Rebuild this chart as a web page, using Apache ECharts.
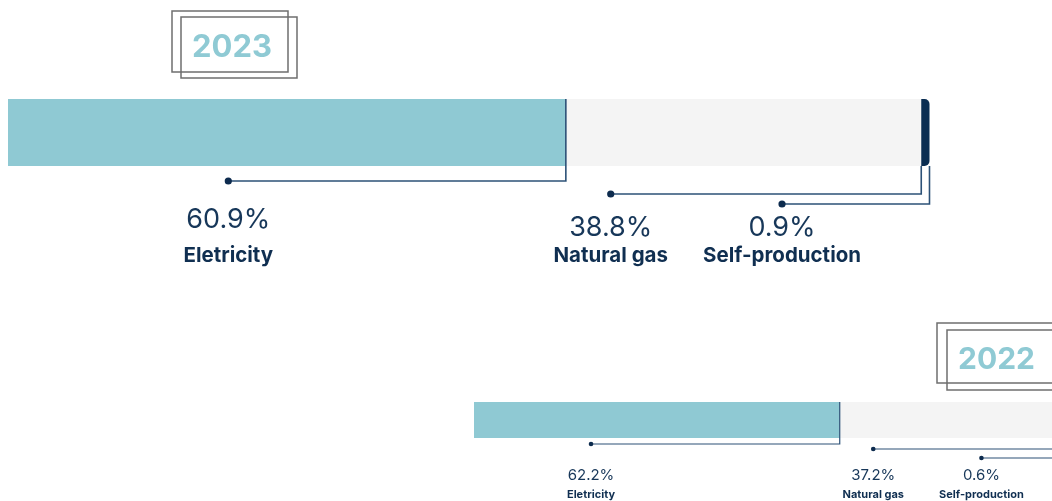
<!DOCTYPE html>
<html><head><meta charset="utf-8">
<script src="https://cdn.jsdelivr.net/npm/echarts@6/dist/echarts.min.js"></script>
<style>html,body{margin:0;padding:0;background:#fff}#c{width:1052px;height:501px}</style>
</head><body><div id="c"></div>
<script>
// ---- data ----
const years = ['2023', '2022'];
const sources = ['Eletricity', 'Natural gas', 'Self-production'];
const share2023 = [60.9, 38.8, 0.9];
const share2022 = [62.2, 37.2, 0.6];
const shares = [share2023, share2022];

// ---- styles / layout ----
const colors = ['#8fc9d3', '#f4f4f4', '#0a2d52'];
const FONT = 'Inter, "DejaVu Sans", sans-serif';
const layout = [
  { left: 8, top: 99, height: 67, pxPerUnit: 9.16,
    lineDrop: [15, 28, 38], dotAt: [24.05, 65.8, 84.5], fromTop: [true, false, false],
    pctY: [220, 228, 228], nameY: 256, pctSize: 27, nameSize: 20.5, dotR: 3.6, lw: 1.6,
    box: { x: 172, y: 11, w: 116, h: 61, dx: 9, dy: 6 }, yearSize: 31 },
  { left: 474, top: 402, height: 36, pxPerUnit: 5.88,
    lineDrop: [6, 11, 20], dotAt: [19.9, 67.9, 86.3], fromTop: [true, false, false],
    pctY: [475, 475, 475], nameY: 495, pctSize: 15, nameSize: 11, dotR: 2.3, lw: 1.2,
    box: { x: 937, y: 323, w: 116, h: 60, dx: 10, dy: 7 }, yearSize: 30 }
];

const totals = shares.map(a => a.reduce((s, v) => s + v, 0));
const chart = echarts.init(document.getElementById('c'), null, { renderer: 'canvas' });

const grid = [], xAxis = [], yAxis = [], series = [];
shares.forEach((arr, gi) => {
  const L = layout[gi];
  grid.push({ left: L.left, top: L.top, width: totals[gi] * L.pxPerUnit, height: L.height,
              containLabel: false, outerBoundsMode: 'none' });
  xAxis.push({ gridIndex: gi, type: 'value', min: 0, max: totals[gi], show: false });
  yAxis.push({ gridIndex: gi, type: 'category', data: [years[gi]], show: false });
  arr.forEach((v, si) => {
    series.push({
      type: 'bar', name: sources[si], xAxisIndex: gi, yAxisIndex: gi, stack: 'y' + years[gi],
      data: [v], barWidth: '100%', clip: false, silent: true,
      itemStyle: { color: colors[si], borderRadius: si === 2 ? [0, 5, 5, 0] : 0 }
    });
  });
});

chart.setOption({ animation: false, grid, xAxis, yAxis, series });

// ---- annotations derived from axis scales ----
const graphics = [];
shares.forEach((arr, gi) => {
  const L = layout[gi];
  const top = L.top, bottom = L.top + L.height;
  let cum = 0;
  arr.forEach((v, si) => {
    cum += v;
    const xEnd = chart.convertToPixel({ xAxisIndex: gi }, cum);
    const xDot = chart.convertToPixel({ xAxisIndex: gi }, L.dotAt[si]);
    const yLine = bottom + L.lineDrop[si];
    const y0 = L.fromTop[si] ? top : bottom;
    graphics.push({ type: 'polyline', silent: true, z: 10,
      shape: { points: [[xEnd, y0], [xEnd, yLine], [xDot, yLine]] },
      style: { stroke: '#2c5177', lineWidth: L.lw, fill: null } });
    graphics.push({ type: 'circle', silent: true, z: 11,
      shape: { cx: xDot, cy: yLine, r: L.dotR }, style: { fill: '#0d2b4e' } });
    graphics.push({ type: 'text', silent: true, z: 11, x: xDot, y: L.pctY[si],
      style: { text: v.toFixed(1) + '%', fontFamily: FONT, fontSize: L.pctSize, fontWeight: 400,
               fill: '#173759', align: 'center', verticalAlign: 'middle' } });
    graphics.push({ type: 'text', silent: true, z: 11, x: xDot, y: L.nameY,
      style: { text: sources[si], fontFamily: FONT, fontSize: L.nameSize, fontWeight: 700,
               fill: '#102f51', align: 'center', verticalAlign: 'middle' } });
  });
  const B = L.box;
  graphics.push({ type: 'rect', silent: true, z: 5,
    shape: { x: B.x, y: B.y, width: B.w, height: B.h },
    style: { fill: null, stroke: '#6f6f6f', lineWidth: 1.5 } });
  graphics.push({ type: 'rect', silent: true, z: 5,
    shape: { x: B.x + B.dx, y: B.y + B.dy, width: B.w, height: B.h },
    style: { fill: null, stroke: '#6f6f6f', lineWidth: 1.5 } });
  graphics.push({ type: 'text', silent: true, z: 6,
    x: B.x + B.dx + 11, y: B.y + B.dy + B.h / 2,
    style: { text: years[gi], fontFamily: FONT, fontSize: L.yearSize, fontWeight: 700,
             fill: '#8fcad4', align: 'left', verticalAlign: 'middle' } });
});
chart.setOption({ graphic: graphics });
</script>
</body></html>
